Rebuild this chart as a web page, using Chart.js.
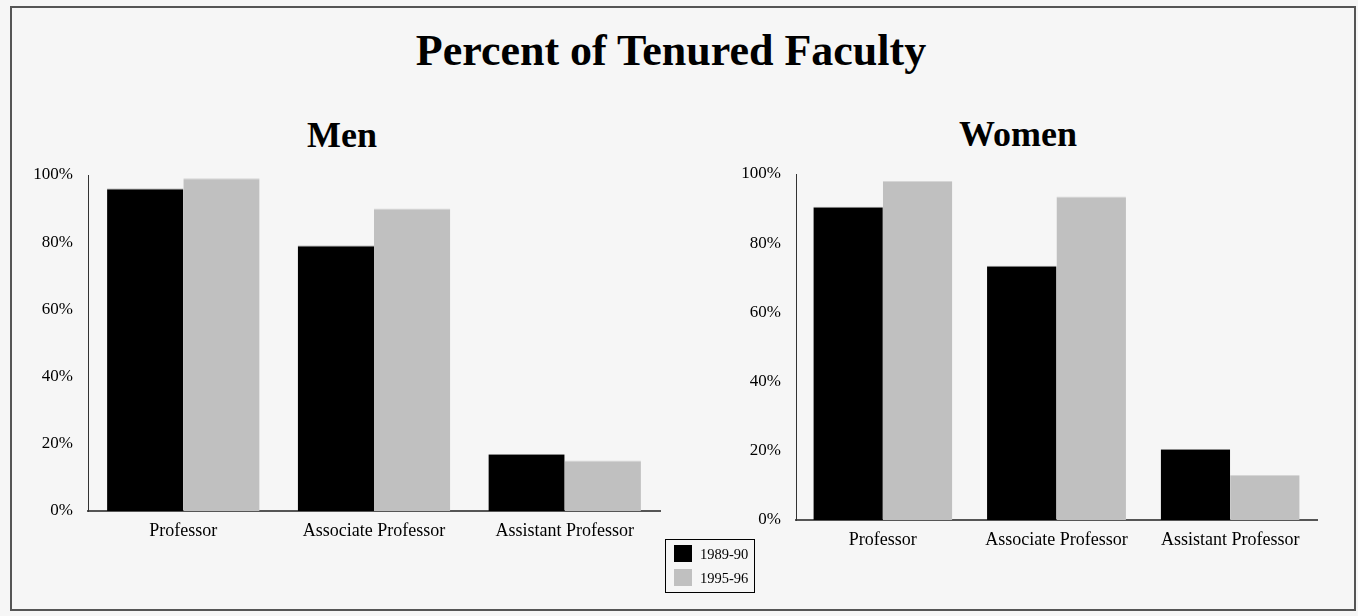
<!DOCTYPE html>
<html>
<head>
<meta charset="utf-8">
<script src="https://cdn.jsdelivr.net/npm/chart.js@4.4.1/dist/chart.umd.min.js"></script>
<style>
  html, body { margin: 0; padding: 0; background: #f6f6f6; }
  body { width: 1358px; height: 616px; position: relative; overflow: hidden; font-family: "Liberation Serif", "Times New Roman", serif; }
  #frame { position: absolute; left: 10px; top: 6px; width: 1342px; height: 601px; border: 2px solid #555; }
  canvas { position: absolute; left: 0; top: 0; }
  .ttl { position: absolute; font-weight: bold; text-align: center; line-height: 1; color: #000; white-space: nowrap; }
  #legend { position: absolute; left: 665px; top: 539px; width: 88px; height: 52px; border: 1px solid #000; }
  .lg-item { position: absolute; left: 8px; height: 18px; font-size: 14.5px; line-height: 18px; }
  .lg-sw { position: absolute; left: 0; top: 0; width: 18px; height: 17px; }
  .lg-tx { position: absolute; left: 26px; top: 0; white-space: nowrap; }
</style>
</head>
<body>
<div id="frame"></div>
<div class="ttl" id="mainTitle" style="left:-8px; width:1358px; top:29px; font-size:44px;"></div>
<div class="ttl" id="menTitle" style="left:242px; width:200px; top:117px; font-size:36px;"></div>
<div class="ttl" id="womenTitle" style="left:918px; width:200px; top:116px; font-size:36px;"></div>
<canvas id="men" width="1358" height="616"></canvas>
<canvas id="women" width="1358" height="616"></canvas>
<div id="legend"></div>
<script>
const mainTitle = "Percent of Tenured Faculty";
const panelTitles = ["Men", "Women"];
const categories = ["Professor", "Associate Professor", "Assistant Professor"];
const seriesLabels = ["1989-90", "1995-96"];
const seriesColors = ["#000000", "#c0c0c0"];
const seriesTopEdge = ["#8a8a8a", "#d6d6d6"];
const men1989 = [96, 79, 17];
const men1995 = [99, 90, 15];
const women1989 = [90.5, 73.5, 20.5];
const women1995 = [98, 93.5, 13];
const yTicks = [0, 20, 40, 60, 80, 100];

document.getElementById('mainTitle').textContent = mainTitle;
document.getElementById('menTitle').textContent = panelTitles[0];
document.getElementById('womenTitle').textContent = panelTitles[1];

const lg = document.getElementById('legend');
seriesLabels.forEach((lab, i) => {
  const it = document.createElement('div');
  it.className = 'lg-item';
  it.style.top = (5 + i * 23.5) + 'px';
  it.innerHTML = '<div class="lg-sw" style="background:' + seriesColors[i] + '"></div><div class="lg-tx"></div>';
  it.querySelector('.lg-tx').textContent = lab;
  lg.appendChild(it);
});

const FONT = "'Liberation Serif', 'Times New Roman', serif";

function makeChart(id, d1, d2, pad) {
  return new Chart(document.getElementById(id), {
    type: 'bar',
    data: {
      labels: categories,
      datasets: [
        { label: seriesLabels[0], data: d1, backgroundColor: seriesColors[0], borderColor: seriesTopEdge[0], borderWidth: {top: 1, left: 0, right: 0, bottom: 0}, borderSkipped: 'bottom' },
        { label: seriesLabels[1], data: d2, backgroundColor: seriesColors[1], borderColor: seriesTopEdge[1], borderWidth: {top: 1, left: 0, right: 0, bottom: 0}, borderSkipped: 'bottom' }
      ]
    },
    options: {
      responsive: false,
      animation: false,
      devicePixelRatio: 1,
      layout: { padding: pad },
      datasets: { bar: { categoryPercentage: 0.8, barPercentage: 1.0 } },
      plugins: { legend: { display: false }, title: { display: false }, tooltip: { enabled: false } },
      scales: {
        x: {
          grid: { display: false, drawTicks: false },
          border: { display: true, color: '#555', width: 2 },
          ticks: { color: '#000', font: { family: FONT, size: 18 }, padding: 9, maxRotation: 0, autoSkip: false },
          afterFit: s => { s.height = 30; }
        },
        y: {
          min: 0, max: 100,
          afterBuildTicks: s => { s.ticks = yTicks.map(v => ({ value: v })); },
          grid: { display: false, drawTicks: false },
          border: { display: true, color: '#333', width: 1 },
          ticks: { color: '#000', font: { family: FONT, size: 17 }, padding: 15, callback: v => v + '%' },
          afterFit: s => { s.width = 70; }
        }
      }
    }
  });
}

makeChart('men', men1989, men1995, { left: 18, right: 698, top: 175, bottom: 75 });
makeChart('women', women1989, women1995, { left: 726, right: 41, top: 174, bottom: 66 });
</script>
</body>
</html>
